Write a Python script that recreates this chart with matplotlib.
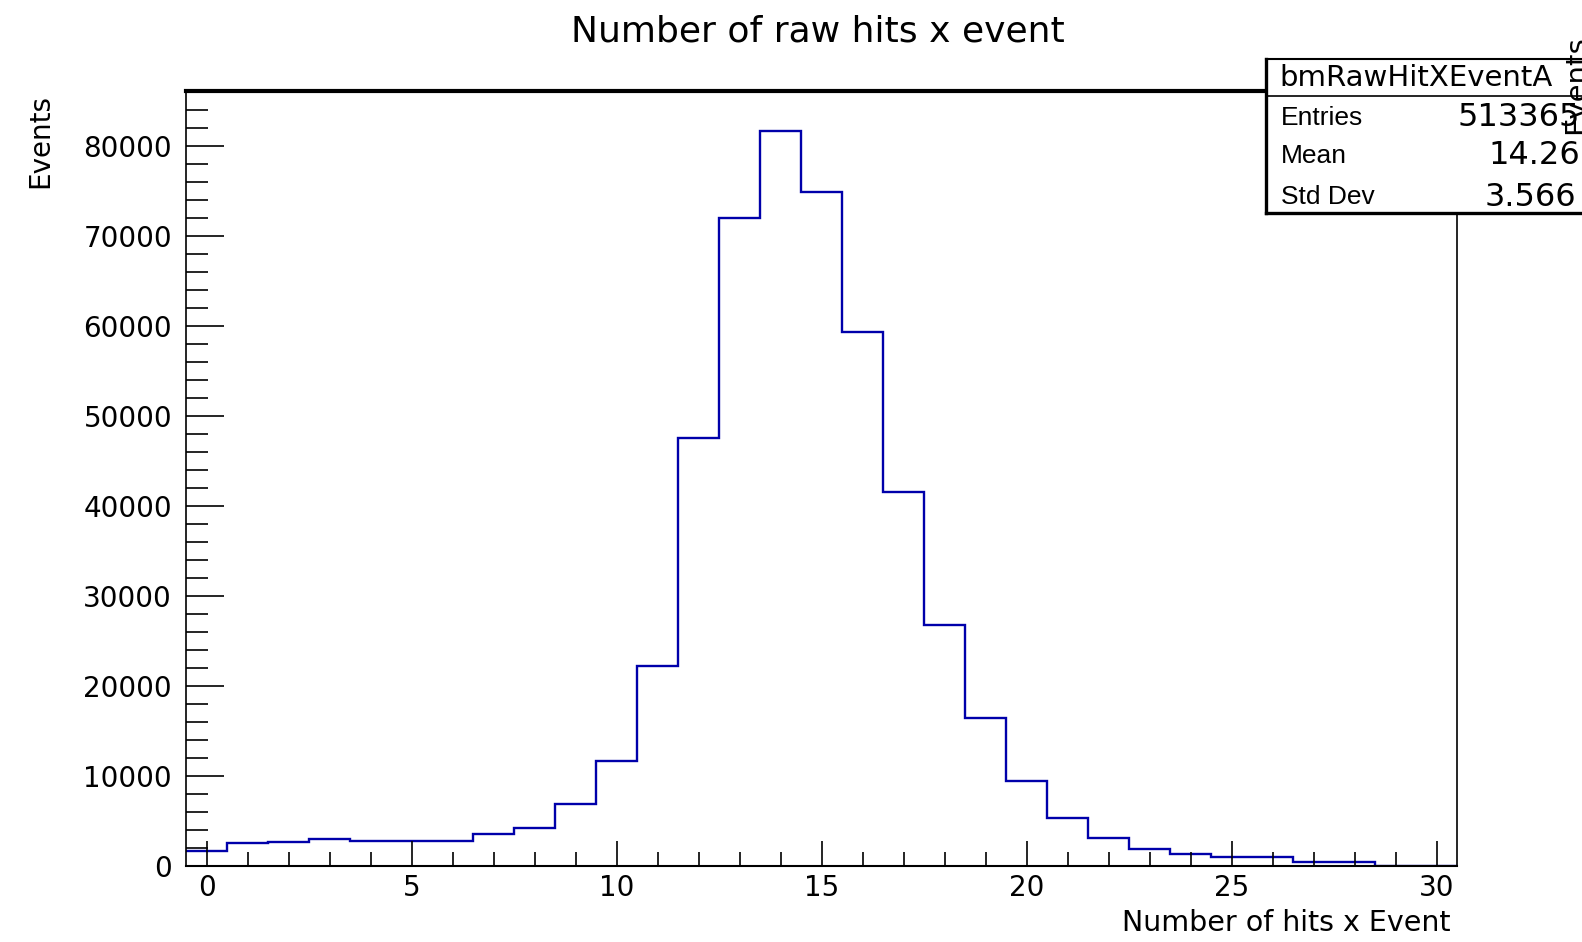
import numpy as np
import matplotlib
matplotlib.use("Agg")
import matplotlib.pyplot as plt
from matplotlib.patches import Rectangle
from matplotlib.lines import Line2D
from matplotlib.ticker import MultipleLocator

plt.rcParams['font.family'] = ['DejaVu Sans']

# histogram of raw hits per event, 31 unit bins centred on 0..30
bin_edges = np.arange(-0.5, 31.0, 1.0)
counts = [1670, 2560, 2670, 3000, 2780, 2780, 2780, 3560, 4220, 6890,
          11670, 22200, 47560, 72000, 81670, 74900, 59330, 41560, 26780, 16440,
          9440, 5330, 3110, 1890, 1330, 1000, 1000, 450, 450, 50, 50]

hist_name = "bmRawHitXEventA"
stat_names = ["Entries", "Mean", "Std Dev"]
stat_values = ["513365", "14.26", "3.566"]

W, H = 1582, 942
fig = plt.figure(figsize=(W / 100, H / 100), dpi=100)


def fx(px):
    return px / W


def fy(py):
    return 1 - py / H


ax = fig.add_axes([fx(186), fy(866), fx(1457) - fx(186), fy(91) - fy(866)])
ax.stairs(counts, bin_edges, baseline=None, color='#0000aa', linewidth=1.7)

ax.set_xlim(-0.5, 30.5)
ax.set_ylim(0, 86100)

ax.xaxis.set_major_locator(MultipleLocator(5))
ax.xaxis.set_minor_locator(MultipleLocator(1))
ax.yaxis.set_major_locator(MultipleLocator(10000))
ax.yaxis.set_minor_locator(MultipleLocator(2000))
ax.tick_params(axis='x', which='major', direction='in', length=18, width=1.2,
               labelsize=20, pad=6)
ax.tick_params(axis='x', which='minor', direction='in', length=10, width=1.2)
ax.tick_params(axis='y', which='major', direction='in', length=27, width=1.2,
               labelsize=20, pad=10)
ax.tick_params(axis='y', which='minor', direction='in', length=16, width=1.2)

for side, lw in [('top', 3.0), ('left', 1.2), ('bottom', 1.5), ('right', 1.2)]:
    ax.spines[side].set_linewidth(lw)

# titles placed the way ROOT puts them
fig.text(fx(818), fy(31), "Number of raw hits x event", ha='center', va='center',
         fontsize=26)
fig.text(fx(1450), fy(923), "Number of hits x Event", ha='right', va='center',
         fontsize=20.5)
fig.text(fx(40), fy(94), "Events", ha='center', va='top', rotation=90,
         fontsize=20)
fig.text(fx(1576), fy(35), "Events", ha='center', va='top', rotation=90,
         fontsize=21, zorder=8)

# statistics box
box_l, box_t, box_b, sep = 1266, 59, 213, 96
fig.add_artist(Rectangle((fx(box_l), fy(box_b)), fx(W + 20) - fx(box_l),
                         fy(box_t) - fy(box_b), transform=fig.transFigure,
                         facecolor='white', edgecolor='none', zorder=5))
fig.add_artist(Line2D([fx(box_l), fx(W + 20)], [fy(box_t)] * 2,
                      transform=fig.transFigure, color='black', lw=1.5, zorder=6))
fig.add_artist(Line2D([fx(box_l), fx(W + 20)], [fy(sep)] * 2,
                      transform=fig.transFigure, color='black', lw=1.2, zorder=6))
fig.add_artist(Line2D([fx(box_l), fx(W + 20)], [fy(box_b)] * 2,
                      transform=fig.transFigure, color='black', lw=2.4, zorder=6))
fig.add_artist(Line2D([fx(box_l)] * 2, [fy(box_t), fy(box_b)],
                      transform=fig.transFigure, color='black', lw=2.4, zorder=6))

fig.text(fx(1279), fy(78), hist_name, ha='left', va='center', fontsize=21,
         zorder=7)
for name, val, yc, x0 in zip(stat_names, stat_values, [118, 156, 197],
                             [1458, 1488, 1485]):
    fig.text(fx(1281), fy(yc), name, ha='left', va='center', fontsize=19,
             family='Liberation Sans', zorder=7)
    fig.text(fx(x0), fy(yc), val, ha='left', va='center', fontsize=23,
             zorder=7)

fig.savefig("out.png", dpi=100)
